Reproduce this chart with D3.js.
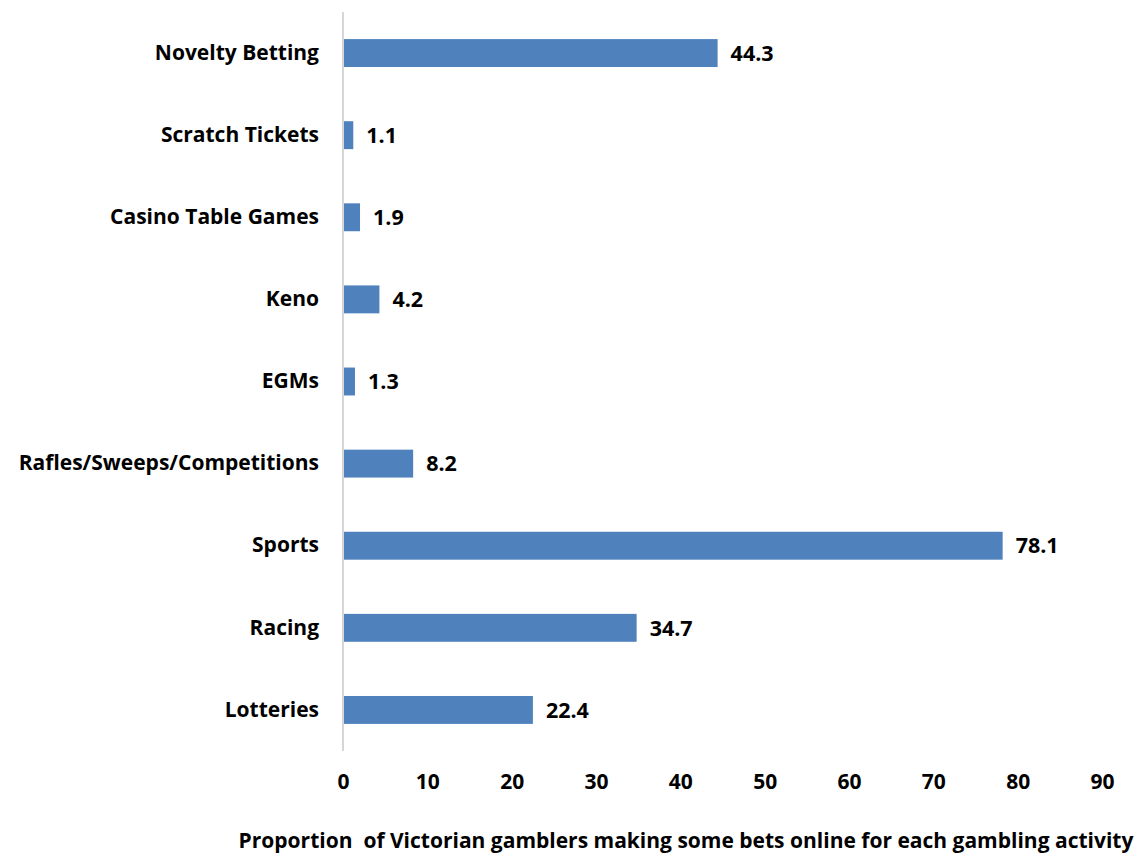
<!DOCTYPE html>
<html>
<head>
<meta charset="utf-8">
<script src="https://cdn.jsdelivr.net/npm/d3@7"></script>
<style>
  body { margin: 0; background: #fff; }
  svg { display: block; }
  text { font-family: "Open Sans", Lato, sans-serif; font-weight: bold; fill: #000; }
</style>
</head>
<body>
<svg id="chart" width="1141" height="855"></svg>
<script>
// Online share of bets by gambling activity (%)
const categories = [
  "Novelty Betting", "Scratch Tickets", "Casino Table Games", "Keno", "EGMs",
  "Rafles/Sweeps/Competitions", "Sports", "Racing", "Lotteries"
];
const values = [44.3, 1.1, 1.9, 4.2, 1.3, 8.2, 78.1, 34.7, 22.4];
const xTicks = [0, 10, 20, 30, 40, 50, 60, 70, 80, 90];
const axisTitle = "Proportion  of Victorian gamblers making some bets online for each gambling activity";

const svg = d3.select("#chart");
const plotLeft = 343, plotRight = 1102, plotTop = 12, plotBottom = 751;
const fontFamily = "'Open Sans', Lato, sans-serif";

const x = d3.scaleLinear().domain([0, 90]).range([plotLeft, plotRight]);
const y = d3.scaleBand().domain(categories).range([plotTop, plotBottom]).paddingInner(0.66).paddingOuter(0.33);

// bars
svg.append("g").selectAll("rect")
  .data(categories)
  .join("rect")
  .attr("x", x(0) + 1)
  .attr("y", d => y(d))
  .attr("width", (d, i) => x(values[i]) - x(0))
  .attr("height", y.bandwidth())
  .attr("fill", "#4f81bd");

// value labels
svg.append("g").selectAll("text")
  .data(categories)
  .join("text")
  .attr("x", (d, i) => x(values[i]) + 14)
  .attr("y", d => y(d) + y.bandwidth() / 2)
  .attr("dy", "0.36em")
  .attr("font-size", 21.5)
  .text((d, i) => values[i].toFixed(1));

// category axis
const yAxis = svg.append("g")
  .attr("transform", `translate(${plotLeft},0)`)
  .call(d3.axisLeft(y).tickSize(0).tickPadding(24));
yAxis.select(".domain").remove();
yAxis.selectAll("text").attr("font-size", 21).attr("font-family", fontFamily).attr("font-weight", "bold");

svg.append("line")
  .attr("x1", plotLeft).attr("x2", plotLeft)
  .attr("y1", plotTop).attr("y2", plotBottom)
  .attr("stroke", "#c8c8c8").attr("stroke-width", 1.5);

// value axis
const xAxis = svg.append("g")
  .attr("transform", `translate(0,${plotBottom})`)
  .call(d3.axisBottom(x).tickValues(xTicks).tickSize(0).tickPadding(23));
xAxis.select(".domain").remove();
xAxis.selectAll("text").attr("font-size", 21).attr("font-family", fontFamily).attr("font-weight", "bold");

svg.append("text")
  .attr("x", 686)
  .attr("y", 840)
  .attr("dy", "0.36em")
  .attr("text-anchor", "middle")
  .attr("font-size", 21)
  .attr("xml:space", "preserve")
  .style("white-space", "pre")
  .text(axisTitle);
</script>
</body>
</html>
